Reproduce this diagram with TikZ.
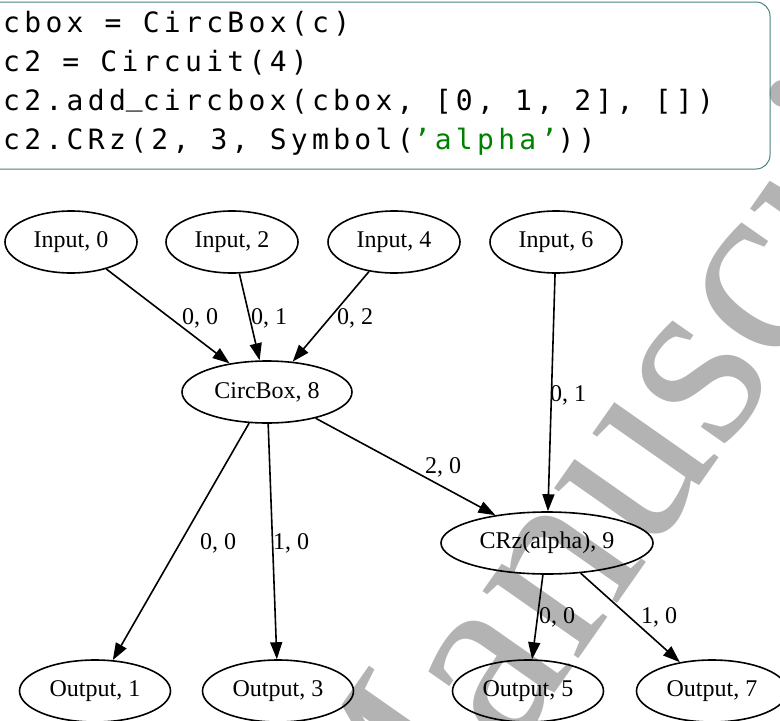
\documentclass[tikz,border=0pt]{standalone}
\usepackage{fontspec}
\setmainfont{Liberation Serif}
\newfontfamily\codefont[LetterSpace=15.4]{DejaVu Sans Mono}
\usetikzlibrary{arrows.meta,shapes.geometric}
\definecolor{wmgray}{RGB}{179,179,179}
\definecolor{boxline}{RGB}{70,130,125}
\definecolor{strgreen}{RGB}{0,128,0}
\newcommand{\uscore}{\raisebox{5pt}{\_}}
\tikzset{
  gvnode/.style={draw, ellipse, line width=1.6pt, inner sep=0pt, minimum height=62pt,
    font=\fontsize{24}{28}\selectfont},
  innode/.style={gvnode, minimum width=132pt},
  outnode/.style={gvnode, minimum width=151pt},
  gvedge/.style={line width=1.6pt, -{Triangle[length=17pt,width=12pt]}},
  gvlabel/.style={inner sep=0pt, font=\fontsize{24}{28}\selectfont},
  codeline/.style={anchor=base west, inner sep=0pt, font=\codefont\fontsize{28}{34}\selectfont},
  watermark/.style={anchor=base west, inner sep=0pt, text=wmgray, rotate=55,
    font=\fontsize{255}{255}\selectfont}
}
\begin{document}
\begin{tikzpicture}[x=1pt,y=-1pt]
\useasboundingbox (0,0) rectangle (780,721);
\clip (0,0) rectangle (780,721);
% watermark
\node[watermark] (wm) at (380,942) {Manuscript};
% code box
\draw[boxline, line width=1pt, rounded corners=14pt] (-20,2) rectangle (770,169);
\node[codeline] (c1) at (3,32) {cbox = CircBox(c)};
\node[codeline] (c2) at (3,71) {c2 = Circuit(4)};
\node[codeline] (c3) at (3,110) {c2.add\uscore circbox(cbox, [0, 1, 2], [])};
\node[codeline] (c4) at (3,149) {c2.CRz(2, 3, Symbol(\textcolor{strgreen}{’alpha’}))};
% graph nodes
\node[innode] (in0) at (71,242) {Input, 0};
\node[innode] (in2) at (232,242) {Input, 2};
\node[innode] (in4) at (394,242) {Input, 4};
\node[innode] (in6) at (556,242) {Input, 6};
\node[gvnode, minimum width=170pt] (cb) at (267,392) {CircBox, 8};
\node[gvnode, minimum width=212pt] (crz) at (547,543) {CRz(alpha), 9};
\node[outnode] (o1) at (95,691) {Output, 1};
\node[outnode] (o3) at (278,691) {Output, 3};
\node[outnode] (o5) at (528,691) {Output, 5};
\node[outnode] (o7) at (712,691) {Output, 7};
% edges
\draw[gvedge] (in0) -- (cb);
\draw[gvedge] (in2) -- (cb);
\draw[gvedge] (in4) -- (cb);
\draw[gvedge] (in6) -- (crz);
\draw[gvedge] (cb) -- (crz);
\draw[gvedge] (cb) -- (o1);
\draw[gvedge] (cb) -- (o3);
\draw[gvedge] (crz) -- (o5);
\draw[gvedge] (crz) -- (o7);
% edge labels
\node[gvlabel] (l00a) at (200,318) {0, 0};
\node[gvlabel] (l01a) at (269,318) {0, 1};
\node[gvlabel] (l02) at (355,318) {0, 2};
\node[gvlabel] (l01b) at (568,395) {0, 1};
\node[gvlabel] (l20) at (443,467) {2, 0};
\node[gvlabel] (l00b) at (218,543) {0, 0};
\node[gvlabel] (l10a) at (291,543) {1, 0};
\node[gvlabel] (l00c) at (557,617) {0, 0};
\node[gvlabel] (l10b) at (659,617) {1, 0};
\end{tikzpicture}
\end{document}
